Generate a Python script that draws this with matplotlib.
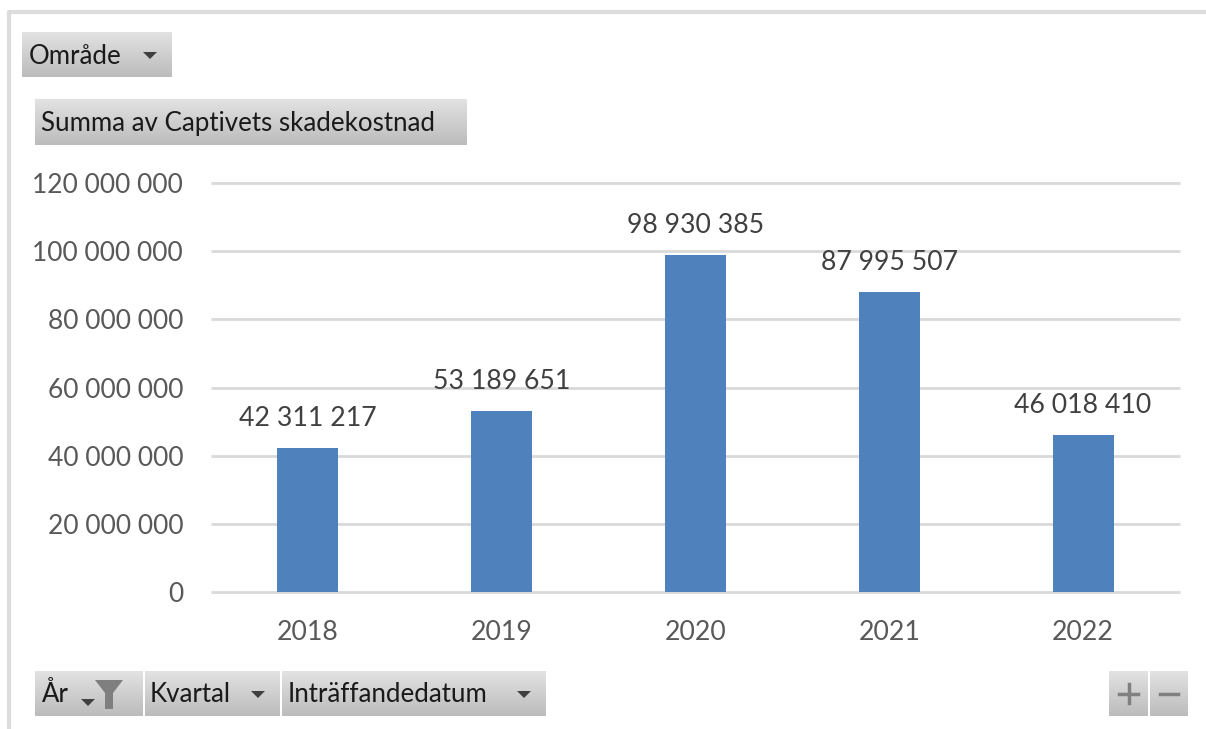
import matplotlib
matplotlib.use("Agg")
import matplotlib.pyplot as plt
import numpy as np

plt.rcParams['font.family'] = ['Lato', 'DejaVu Sans']

years = ["2018", "2019", "2020", "2021", "2022"]
values = [42311217, 53189651, 98930385, 87995507, 46018410]
y_ticks = [0, 20000000, 40000000, 60000000, 80000000, 100000000, 120000000]


def fmt(v):
    return f"{v:,}".replace(",", " ")


W, H = 1206, 729
fig = plt.figure(figsize=(W / 100, H / 100), dpi=100)

# Main chart, positions in pixels
left, right, top, bottom = 211, 1180, 183, 592
ax = fig.add_axes([left / W, 1 - bottom / H, (right - left) / W, (bottom - top) / H])
ax.bar(range(len(years)), values, width=0.315, color="#4f81bd", zorder=3)
ax.set_xlim(-0.5, 4.5)
ax.set_ylim(0, 120000000)
ax.set_yticks(y_ticks)
ax.set_yticklabels([fmt(v) for v in y_ticks], fontsize=19, color="#595959")
ax.set_xticks(range(len(years)))
ax.set_xticklabels(years, fontsize=19.2, color="#595959")
ax.tick_params(axis="both", length=0)
ax.tick_params(axis="y", pad=20)
ax.tick_params(axis="x", pad=20)
ax.grid(axis="y", color="#d9d9d9", linewidth=2, zorder=0)
ax.set_axisbelow(True)
for s in ax.spines.values():
    s.set_visible(False)
for gl in ax.get_ygridlines():
    gl.set_clip_on(False)
    gl.set_solid_capstyle("butt")

for i, v in enumerate(values):
    ax.annotate(fmt(v), (i, v), xytext=(0, 17), textcoords="offset pixels",
                ha="center", va="bottom", fontsize=19.2, color="#404040", zorder=4)

# Overlay in pixel coordinates for the frame and pivot buttons
ov = fig.add_axes([0, 0, 1, 1], zorder=5)
ov.set_xlim(0, W)
ov.set_ylim(H, 0)
ov.axis("off")
ov.patch.set_alpha(0)

ov.plot([9, 9, W], [H, 12, 12], color="#dcdcdc", linewidth=3, solid_capstyle="butt")

grad = np.linspace(0, 1, 64).reshape(-1, 1)
cmap = matplotlib.colors.LinearSegmentedColormap.from_list("btn", ["#e2e2e2", "#bcbcbc"])


def button(x0, x1, y0, y1):
    ov.imshow(grad, extent=[x0, x1, y1, y0], cmap=cmap, aspect="auto", zorder=1)


def arrow(x, y):
    ov.fill([x - 7, x + 7, x], [y - 3, y - 3, y + 4], color="#404040", linewidth=0, zorder=3)


btn_text = dict(fontsize=18.6, color="#1a1a1a", va="center", ha="left", zorder=3)

button(22, 172, 32, 77)
ov.text(29, 56, "Område", **btn_text)
arrow(150, 55)

button(35, 467, 99, 145)
ov.text(41, 123, "Summa av Captivets skadekostnad", **btn_text)

button(35, 143, 671, 716)
ov.text(42, 695, "År", **btn_text)
arrow(88, 702)
ov.fill([95, 123, 113, 113, 105, 105], [680, 680, 693, 709, 709, 693], color="#7f7f7f", linewidth=0, zorder=3)

button(145, 280, 671, 716)
ov.text(150, 695, "Kvartal", **btn_text)
arrow(243 + 15, 694)

button(282, 546, 671, 716)
ov.text(288, 695, "Inträffandedatum", **btn_text)
arrow(524, 694)

button(1109, 1148, 671, 716)
button(1150, 1188, 671, 716)
ov.plot([1119, 1138], [693.5, 693.5], color="#808080", linewidth=2.5, zorder=3)
ov.plot([1128.5, 1128.5], [684, 703], color="#808080", linewidth=2.5, zorder=3)
ov.plot([1160, 1178], [693.5, 693.5], color="#808080", linewidth=2.5, zorder=3)

ov.set_xlim(0, W)
ov.set_ylim(H, 0)

fig.savefig("out.png", dpi=100)
